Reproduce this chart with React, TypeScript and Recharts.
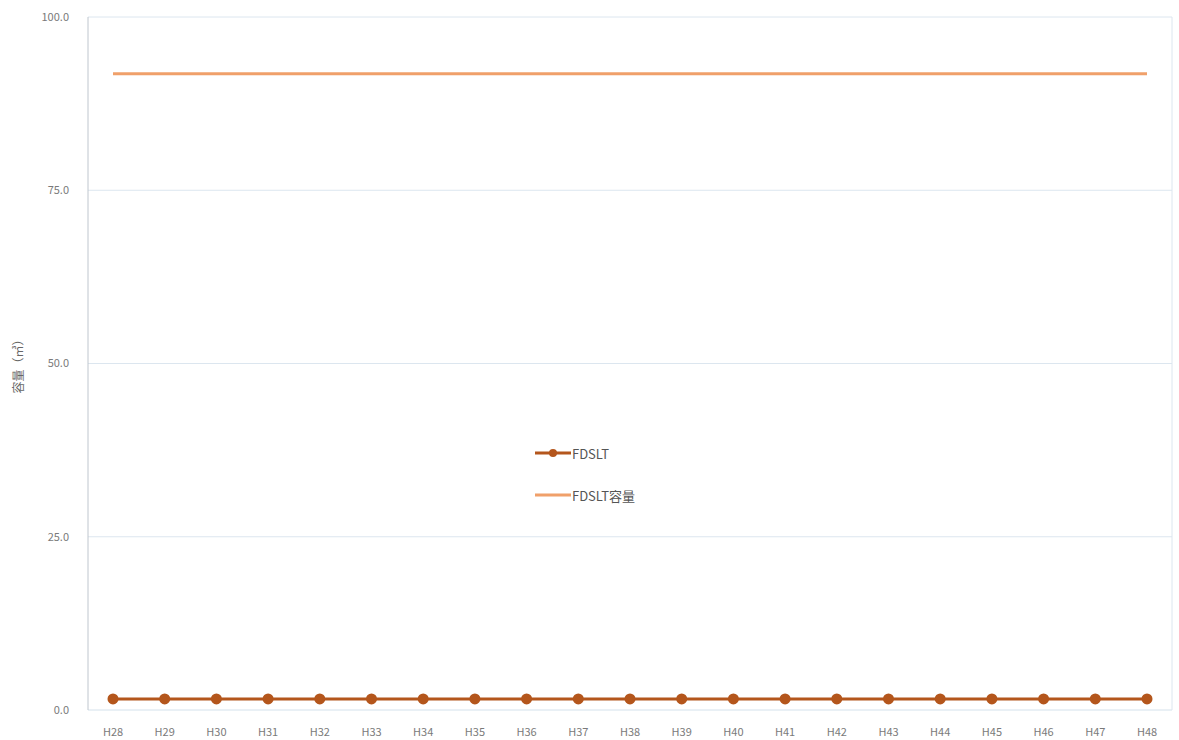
import React from "react";
import {
  LineChart,
  Line,
  CartesianGrid,
  XAxis,
  YAxis,
} from "recharts";

const years = [
  "H28", "H29", "H30", "H31", "H32", "H33", "H34", "H35", "H36", "H37", "H38",
  "H39", "H40", "H41", "H42", "H43", "H44", "H45", "H46", "H47", "H48",
];
const fdsltValues = [
  1.6, 1.6, 1.6, 1.6, 1.6, 1.6, 1.6, 1.6, 1.6, 1.6, 1.6,
  1.6, 1.6, 1.6, 1.6, 1.6, 1.6, 1.6, 1.6, 1.6, 1.6,
];
const capacityValues = [
  91.8, 91.8, 91.8, 91.8, 91.8, 91.8, 91.8, 91.8, 91.8, 91.8, 91.8,
  91.8, 91.8, 91.8, 91.8, 91.8, 91.8, 91.8, 91.8, 91.8, 91.8,
];
const yTicks = [0, 25, 50, 75, 100];

const data = years.map((year, i) => ({
  year,
  fdslt: fdsltValues[i],
  capacity: capacityValues[i],
}));

const font = "'Noto Sans CJK JP', 'Noto Sans', sans-serif";
const tickStyle = { fill: "#7a7a7a", fontSize: 11, fontFamily: font };

// legend sits inside the plot area, so it is an overlay rather than <Legend>
const LegendBox = () => (
  <div
    style={{
      position: "absolute",
      left: 535,
      top: 443,
      fontFamily: font,
      fontSize: 13,
      color: "#555",
    }}
  >
    <div style={{ display: "flex", alignItems: "center", height: 20 }}>
      <svg width={36} height={12}>
        <line x1={0} y1={6} x2={36} y2={6} stroke="#B4561C" strokeWidth={3} />
        <circle cx={18} cy={6} r={4} fill="#B4561C" />
      </svg>
      <span style={{ marginLeft: 1 }}>FDSLT</span>
    </div>
    <div style={{ display: "flex", alignItems: "center", height: 20, marginTop: 22 }}>
      <svg width={36} height={12}>
        <line x1={0} y1={6} x2={36} y2={6} stroke="#F0A06A" strokeWidth={3} />
      </svg>
      <span style={{ marginLeft: 1 }}>FDSLT容量</span>
    </div>
  </div>
);

export default function App() {
  return (
    <div style={{ position: "absolute", left: 0, top: 0, width: 1179, height: 740, background: "#fff" }}>
      <LineChart
        width={1179}
        height={740}
        data={data}
        margin={{ top: 17, right: 0, bottom: 0, left: 28 }}
      >
        <CartesianGrid vertical={false} stroke="#DCE6EF" />
        <XAxis
          dataKey="year"
          height={30}
          padding={{ left: 25, right: 25 }}
          tick={tickStyle}
          tickLine={false}
          axisLine={{ stroke: "#E6EDF3" }}
          tickMargin={12}
        />
        <YAxis
          domain={[0, 100]}
          ticks={yTicks}
          width={60}
          tick={tickStyle}
          tickFormatter={(v: number) => v.toFixed(1)}
          tickLine={false}
          axisLine={{ stroke: "#BFC6CE" }}
          tickMargin={13}
          label={{
            value: "容量（㎥）",
            angle: -90,
            position: "insideLeft",
            offset: -9,
            style: { fill: "#666", fontSize: 12, fontFamily: font, textAnchor: "middle" },
          }}
        />
        <YAxis
          yAxisId="right"
          orientation="right"
          width={7}
          tick={false}
          tickLine={false}
          axisLine={{ stroke: "#DCE6EF" }}
        />
        <Line
          dataKey="fdslt"
          name="FDSLT"
          stroke="#B4561C"
          strokeWidth={3}
          dot={{ r: 4, fill: "#B4561C", stroke: "#B4561C" }}
          isAnimationActive={false}
        />
        <Line
          dataKey="capacity"
          name="FDSLT容量"
          stroke="#F0A06A"
          strokeWidth={3}
          dot={false}
          isAnimationActive={false}
        />
      </LineChart>
      <LegendBox />
    </div>
  );
}
